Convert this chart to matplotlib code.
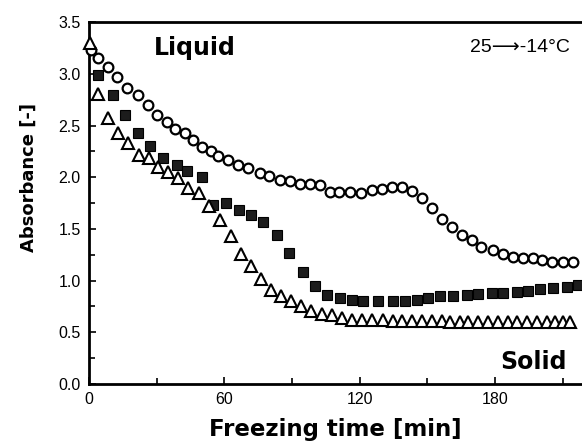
import matplotlib
matplotlib.use("Agg")
import matplotlib.pyplot as plt
from matplotlib.ticker import MultipleLocator

# freezing time [min] and absorbance for the three runs
liquid_t = [1, 4, 8.5, 12.5, 17, 21.5, 26, 30, 34.5, 38, 42.5, 46, 50, 54, 57,
            61.5, 66, 70.5, 76, 80, 84.5, 89, 93.5, 98, 102.5, 107, 111, 115.5,
            120.5, 125.5, 130, 134.5, 139, 143, 147.5, 152, 156.5, 161, 165.5,
            170, 174, 179, 183.5, 188, 192.5, 197, 201, 205.5, 210, 214.5]
liquid_a = [3.23, 3.15, 3.07, 2.97, 2.86, 2.80, 2.70, 2.60, 2.54, 2.47, 2.43,
            2.36, 2.29, 2.25, 2.21, 2.17, 2.12, 2.09, 2.04, 2.01, 1.97, 1.96,
            1.94, 1.94, 1.93, 1.86, 1.86, 1.86, 1.85, 1.88, 1.89, 1.91, 1.91,
            1.87, 1.80, 1.70, 1.60, 1.52, 1.44, 1.39, 1.33, 1.30, 1.26, 1.23,
            1.22, 1.22, 1.20, 1.18, 1.18, 1.18]

square_t = [4, 10.6, 16, 21.7, 27, 32.8, 39, 43.5, 50, 55, 60.7, 66.5, 71.8,
            77.1, 83.3, 88.7, 94.9, 100.2, 105.5, 111.3, 116.6, 121.5, 128.1,
            134.8, 140.1, 145.4, 150.3, 155.6, 161.4, 167.6, 172.5, 178.7,
            183.5, 189.7, 194.6, 199.9, 205.7, 211.9, 216.8]
square_a = [2.99, 2.80, 2.60, 2.43, 2.30, 2.19, 2.12, 2.06, 2.00, 1.73, 1.75,
            1.68, 1.64, 1.57, 1.44, 1.27, 1.08, 0.95, 0.86, 0.83, 0.81, 0.80,
            0.80, 0.80, 0.80, 0.81, 0.83, 0.85, 0.85, 0.86, 0.87, 0.88, 0.88,
            0.89, 0.90, 0.92, 0.93, 0.94, 0.96]

tri_t = [0.4, 4.0, 8.4, 12.9, 17.3, 22.2, 26.6, 30.6, 35.0, 39.5, 43.9, 48.8,
         53.2, 58.1, 63.0, 67.4, 71.8, 76.3, 80.7, 85.1, 89.6, 94.0, 98.4,
         103.3, 107.7, 112.2, 116.6, 121.0, 125.5, 130.3, 134.8, 138.8, 143.2,
         147.6, 152.1, 156.5, 160.0, 164.5, 168.0, 172.5, 176.9, 181.3, 185.8,
         189.8, 194.2, 198.6, 203.1, 206.6, 210.1, 213.2]
tri_a = [3.30, 2.81, 2.57, 2.43, 2.33, 2.22, 2.19, 2.10, 2.05, 1.99, 1.90,
         1.85, 1.72, 1.59, 1.43, 1.26, 1.14, 1.02, 0.91, 0.85, 0.80, 0.75,
         0.71, 0.68, 0.67, 0.64, 0.62, 0.62, 0.62, 0.62, 0.61, 0.61, 0.61,
         0.61, 0.61, 0.61, 0.60, 0.60, 0.60, 0.60, 0.60, 0.60, 0.60, 0.60,
         0.60, 0.60, 0.60, 0.60, 0.60, 0.60]

x_ticks = [0, 60, 120, 180]
y_ticks = [0.0, 0.5, 1.0, 1.5, 2.0, 2.5, 3.0, 3.5]


def main():
    fig = plt.figure(figsize=(5.82, 4.46), dpi=100)
    ax = fig.add_axes([0.153, 0.139, 0.847, 0.811])

    ax.plot(liquid_t, liquid_a, "o", ms=7, mfc="white", mec="black", mew=1.6,
            ls="none", clip_on=False, zorder=3)
    ax.plot(square_t, square_a, "s", ms=6.5, mfc="#1c1c1c", mec="black",
            mew=0.8, ls="none", clip_on=False, zorder=3)
    ax.plot(tri_t, tri_a, "^", ms=8.5, mfc="white", mec="black", mew=1.5,
            ls="none", clip_on=False, zorder=3)

    ax.set_xlim(0, 218.6)
    ax.set_ylim(0, 3.5)
    ax.set_xticks(x_ticks)
    ax.set_yticks(y_ticks)
    ax.xaxis.set_minor_locator(MultipleLocator(30))
    ax.yaxis.set_minor_locator(MultipleLocator(0.25))
    ax.set_yticklabels([f"{v:.1f}" for v in y_ticks])

    ax.tick_params(which="both", direction="in", width=1.2,
                   top=False, right=False)
    ax.tick_params(which="major", length=5, labelsize=11.5, pad=6)
    ax.tick_params(which="minor", length=4)
    for lab in ax.get_xticklabels() + ax.get_yticklabels():
        lab.set_family("Liberation Sans")

    for side in ["left", "bottom", "top"]:
        ax.spines[side].set_linewidth(2)
    ax.spines["right"].set_visible(False)

    ax.set_xlabel("Freezing time [min]", fontsize=16.5, fontweight="bold",
                  family="DejaVu Sans", labelpad=8)
    ax.set_ylabel("Absorbance [-]", fontsize=13, fontweight="bold",
                  family="DejaVu Sans")
    ax.yaxis.set_label_coords(-0.105, 0.57)

    ax.text(0.215, 0.93, "Liquid", transform=ax.transAxes, fontsize=17,
            fontweight="bold", family="DejaVu Sans", ha="center", va="center")
    ax.text(0.97, 0.06, "Solid", transform=ax.transAxes, fontsize=17,
            fontweight="bold", family="DejaVu Sans", ha="right", va="center")
    ax.text(0.975, 0.93, "25\u27f6-14\u00b0C", transform=ax.transAxes,
            fontsize=14, family=["Liberation Sans", "DejaVu Sans"],
            ha="right", va="center")

    fig.savefig("out.png", dpi=100)


if __name__ == "__main__":
    main()
